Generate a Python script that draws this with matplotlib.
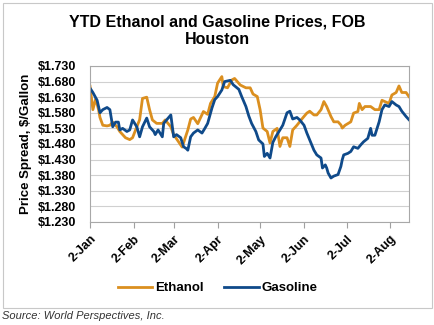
import numpy as np
import matplotlib
matplotlib.use("Agg")
import matplotlib.pyplot as plt
from matplotlib.patches import Rectangle

plt.rcParams['font.family'] = ['Liberation Sans', 'DejaVu Sans']

# days counted from 2-Jan
eth_days = [0, 2, 4, 6, 7, 9, 12, 14, 16, 19, 21, 25, 28, 30, 33, 35, 37, 40, 42, 44,
            47, 51, 53, 57, 59, 62, 65, 69, 71, 73, 76, 80, 83, 85, 88, 90, 93, 94, 97, 100,
            102, 106, 110, 113, 115, 118, 120, 122, 125, 127, 129, 132, 134, 136, 139, 141, 143, 146, 150, 153,
            155, 158, 160, 163, 165, 167, 170, 172, 175, 177, 178, 180, 184, 186, 189, 190, 192, 194, 198, 201,
            204, 206, 208, 211, 213, 216, 218, 220, 223, 225]
eth_vals = [1.665, 1.590, 1.625, 1.590, 1.565, 1.540, 1.538, 1.540, 1.550, 1.535, 1.520, 1.500, 1.494, 1.500, 1.535, 1.558, 1.626, 1.630, 1.590, 1.557,
            1.546, 1.546, 1.557, 1.535, 1.510, 1.490, 1.470, 1.525, 1.560, 1.565, 1.545, 1.584, 1.575, 1.610, 1.632, 1.675, 1.696, 1.664, 1.660, 1.685,
            1.690, 1.669, 1.660, 1.660, 1.640, 1.632, 1.590, 1.531, 1.520, 1.483, 1.520, 1.530, 1.472, 1.500, 1.500, 1.472, 1.525, 1.540, 1.563, 1.579,
            1.585, 1.573, 1.573, 1.590, 1.616, 1.600, 1.568, 1.551, 1.551, 1.541, 1.531, 1.540, 1.551, 1.579, 1.584, 1.610, 1.590, 1.600, 1.600, 1.590,
            1.590, 1.620, 1.616, 1.610, 1.637, 1.645, 1.666, 1.645, 1.645, 1.632]

gas_days = [0, 2, 5, 7, 9, 12, 14, 16, 18, 20, 21, 23, 26, 28, 30, 33, 35, 37, 40, 42,
            45, 46, 48, 51, 52, 54, 57, 59, 61, 64, 66, 68, 69, 71, 73, 76, 79, 81, 83, 86,
            88, 90, 93, 95, 99, 101, 105, 107, 110, 112, 114, 117, 119, 122, 123, 125, 127, 129, 131, 134,
            136, 139, 141, 143, 146, 148, 151, 153, 155, 158, 160, 163, 164, 166, 167, 168, 170, 172, 175, 177,
            178, 179, 182, 184, 186, 189, 191, 193, 196, 198, 199, 201, 204, 206, 208, 211, 213, 216, 218, 220,
            223, 225]
gas_vals = [1.659, 1.645, 1.620, 1.580, 1.590, 1.597, 1.590, 1.535, 1.550, 1.550, 1.525, 1.530, 1.520, 1.525, 1.557, 1.535, 1.503, 1.535, 1.563, 1.535,
            1.520, 1.510, 1.525, 1.503, 1.546, 1.557, 1.573, 1.503, 1.510, 1.500, 1.471, 1.465, 1.460, 1.503, 1.515, 1.525, 1.515, 1.530, 1.546, 1.595,
            1.622, 1.632, 1.653, 1.680, 1.684, 1.670, 1.655, 1.632, 1.600, 1.570, 1.546, 1.520, 1.493, 1.480, 1.440, 1.450, 1.435, 1.485, 1.503, 1.525,
            1.540, 1.580, 1.585, 1.560, 1.565, 1.557, 1.540, 1.515, 1.493, 1.460, 1.445, 1.435, 1.403, 1.413, 1.403, 1.387, 1.371, 1.377, 1.382, 1.408,
            1.430, 1.445, 1.450, 1.456, 1.471, 1.466, 1.477, 1.487, 1.498, 1.530, 1.508, 1.508, 1.551, 1.590, 1.605, 1.600, 1.616, 1.605, 1.600, 1.585,
            1.568, 1.558]

tick_labels = ['2-Jan', '2-Feb', '2-Mar', '2-Apr', '2-May', '2-Jun', '2-Jul', '2-Aug']
y_ticks = [1.23 + 0.05 * i for i in range(11)]

start = np.datetime64('2017-01-02')
eth_x = start + np.array(eth_days).astype('timedelta64[D]')
gas_x = start + np.array(gas_days).astype('timedelta64[D]')
tick_x = [np.datetime64('2017-%02d-02' % m) for m in range(1, 9)]

fig = plt.figure(figsize=(4.35, 3.25), dpi=100)
fig.patches.append(Rectangle((3 / 435, 17 / 325), 429 / 435, 305 / 325, transform=fig.transFigure,
                             fill=False, edgecolor='#c8c8c8', linewidth=0.8))
ax = fig.add_axes([0.207, 0.317, 0.733, 0.48])

ax.plot(eth_x, eth_vals, color='#DB8F1F', linewidth=2.0, label='Ethanol')
ax.plot(gas_x, gas_vals, color='#0F4A8A', linewidth=2.0, label='Gasoline')

ax.set_ylim(1.23, 1.73)
ax.set_yticks(y_ticks)
ax.set_yticklabels(['$%.3f' % v for v in y_ticks], fontsize=9, fontweight='bold')
ax.set_xlim(start, start + np.timedelta64(225, 'D'))
ax.set_xticks(tick_x)
ax.set_xticklabels(tick_labels, rotation=45, ha='right', rotation_mode='anchor',
                   fontsize=9, fontweight='bold')
ax.tick_params(axis='y', length=0, pad=10)
ax.tick_params(axis='x', length=4, color='#a0a0a0', pad=4)
ax.grid(axis='y', color='#d0d0d0', linewidth=0.8)
ax.set_axisbelow(True)
for s in ax.spines.values():
    s.set_color('#a8a8a8')
    s.set_linewidth(0.8)

ax.set_ylabel('Price Spread, $/Gallon', fontsize=9.5, fontweight='bold', labelpad=4)

fig.text(0.5, 0.906, 'YTD Ethanol and Gasoline Prices, FOB\nHouston', ha='center', va='center',
         fontsize=11.5, fontweight='bold', linespacing=1.25)

fig.legend(loc='center', bbox_to_anchor=(0.5, 0.113), ncol=2, frameon=False,
           prop={'size': 9.5, 'weight': 'bold'}, handlelength=2.6, handletextpad=0.2,
           columnspacing=1.6)

fig.text(0.005, 0.028, 'Source: World Perspectives, Inc.', fontsize=8, style='italic',
         color='#333333', ha='left', va='center')

fig.savefig('out.png', dpi=100)
